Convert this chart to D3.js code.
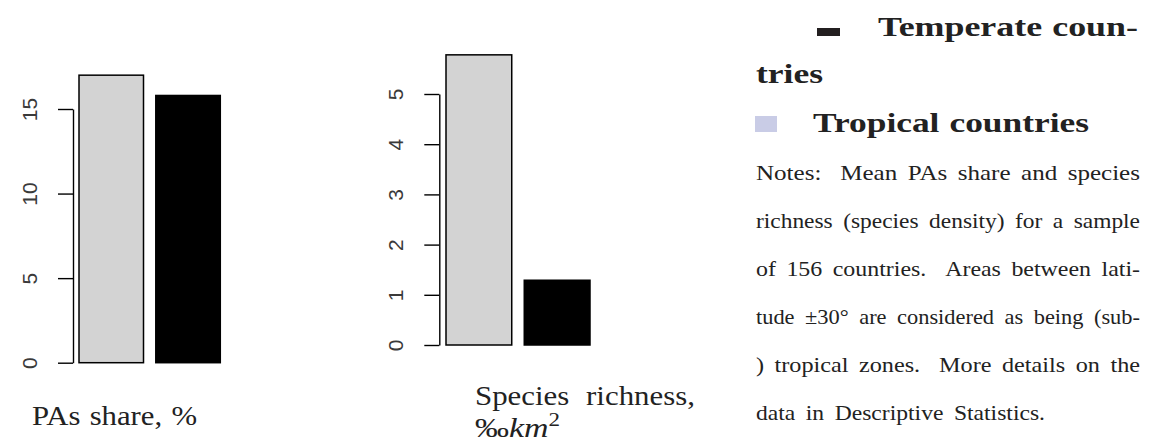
<!DOCTYPE html>
<html>
<head>
<meta charset="utf-8">
<script src="https://cdn.jsdelivr.net/npm/d3@7"></script>
<style>
  body { margin: 0; background: #fff; }
  svg { display: block; }
</style>
</head>
<body>
<script>
// values
const groups = ["Tropical countries", "Temperate countries"];
const paShare = [17.0, 15.8];
const speciesRichness = [5.78, 1.29];
const paTicks = [0, 5, 10, 15];
const srTicks = [0, 1, 2, 3, 4, 5];
const barColors = ["#d3d3d3", "#000000"];
const legendColors = ["#231f20", "#c9cce6"];
const legendLines = ["Temperate coun-", "tries", "Tropical countries"];
const noteLines = [
  "Notes: Mean PAs share and species",
  "richness (species density) for a sample",
  "of 156 countries. Areas between lati-",
  "tude \u00b130\u00b0 are considered as being (sub-",
  ") tropical zones. More details on the",
  "data in Descriptive Statistics."
];

const W = 1151, H = 444;
const serif = "'Liberation Serif', 'Times New Roman', serif";

const svg = d3.select("body").append("svg")
  .attr("width", W)
  .attr("height", H);

// one text per word; words are widened so the line fills its width
// with a given word gap (wider after a sentence), like the latex lines
function justify(line, x0, y0, width, size, bold, gapEm) {
  const g = svg.append("g");
  const words = line.split(" ");
  const gap = size * gapEm;
  const gaps = words.slice(0, -1).map(w => /[.:]$/.test(w) ? gap * 1.8 : gap);
  const nodes = words.map(w => {
    const t = g.append("text")
      .attr("y", y0)
      .style("font-family", serif)
      .style("font-size", size + "px")
      .style("font-weight", bold ? "bold" : "normal")
      .style("fill", "#222")
      .text(w);
    return [t, t.node().getComputedTextLength()];
  });
  const total = d3.sum(nodes, d => d[1]);
  const f = (width - d3.sum(gaps)) / total;
  let x = x0;
  nodes.forEach((d, i) => {
    const w = d[1] * f;
    d[0].attr("x", x).attr("textLength", w).attr("lengthAdjust", "spacingAndGlyphs");
    x += w + (gaps[i] || 0);
  });
}

function panel(values, ticks, xRange, yRange, axisX) {
  const x = d3.scaleBand().domain(groups).range(xRange).paddingInner(0.16);
  const y = d3.scaleLinear().domain([0, d3.max(ticks)]).range(yRange);

  svg.append("g")
    .selectAll("rect")
    .data(values)
    .enter().append("rect")
    .attr("x", (d, i) => x(groups[i]))
    .attr("y", d => y(d))
    .attr("width", x.bandwidth())
    .attr("height", d => y(0) - y(d))
    .style("fill", (d, i) => barColors[i])
    .style("stroke", "#000")
    .style("stroke-width", 1.5);

  const ax = svg.append("g")
    .attr("transform", "translate(" + axisX + ",0)")
    .call(d3.axisLeft(y).tickValues(ticks).tickFormat(d3.format("d")).tickSize(15).tickSizeOuter(0));
  ax.select(".domain").attr("stroke-width", 1.4);
  ax.selectAll(".tick line").attr("stroke-width", 1.4);
  ax.selectAll(".tick text")
    .attr("x", null)
    .attr("dy", null)
    .attr("transform", "translate(-36,0) rotate(-90)")
    .attr("text-anchor", "middle")
    .style("font-family", "'Liberation Sans', Arial, sans-serif")
    .style("font-size", "21px")
    .style("fill", "#3a3a3a");
}

panel(paShare, paTicks, [79, 220.3], [362.7, 109], 73);
panel(speciesRichness, srTicks, [446, 590], [345, 94], 439.3);

// x labels under the panels
justify("PAs share, %", 32, 425, 165, 28, false, 0.33);
justify("Species richness,", 475, 405, 220, 28, false, 0.6);

const lab3 = svg.append("text")
  .attr("x", 475).attr("y", 437)
  .style("font-family", serif).style("font-size", "28px").style("fill", "#222");
lab3.append("tspan").text("\u2030");
lab3.append("tspan").style("font-style", "italic").text("km");
lab3.append("tspan").attr("dy", -11).style("font-size", "19px").text("2");
lab3.attr("textLength", 85).attr("lengthAdjust", "spacingAndGlyphs");

// legend
svg.append("rect").attr("x", 817).attr("y", 28).attr("width", 23).attr("height", 8)
  .style("fill", legendColors[0]);
svg.append("rect").attr("x", 755).attr("y", 116).attr("width", 22).attr("height", 16)
  .style("fill", legendColors[1]);

const legPos = [[878, 36, 260], [756, 83, 67], [813, 132, 276]];
legendLines.forEach((t, i) => {
  const p = legPos[i];
  justify(t, p[0], p[1], p[2], 28, true, 0.36);
});

// notes; the last line keeps its own width
const noteWidths = [384, 384, 384, 384, 384, 289];
noteLines.forEach((t, i) => {
  justify(t, 756, 180 + i * 47.9, noteWidths[i], 21, false, 0.5);
});
</script>
</body>
</html>
